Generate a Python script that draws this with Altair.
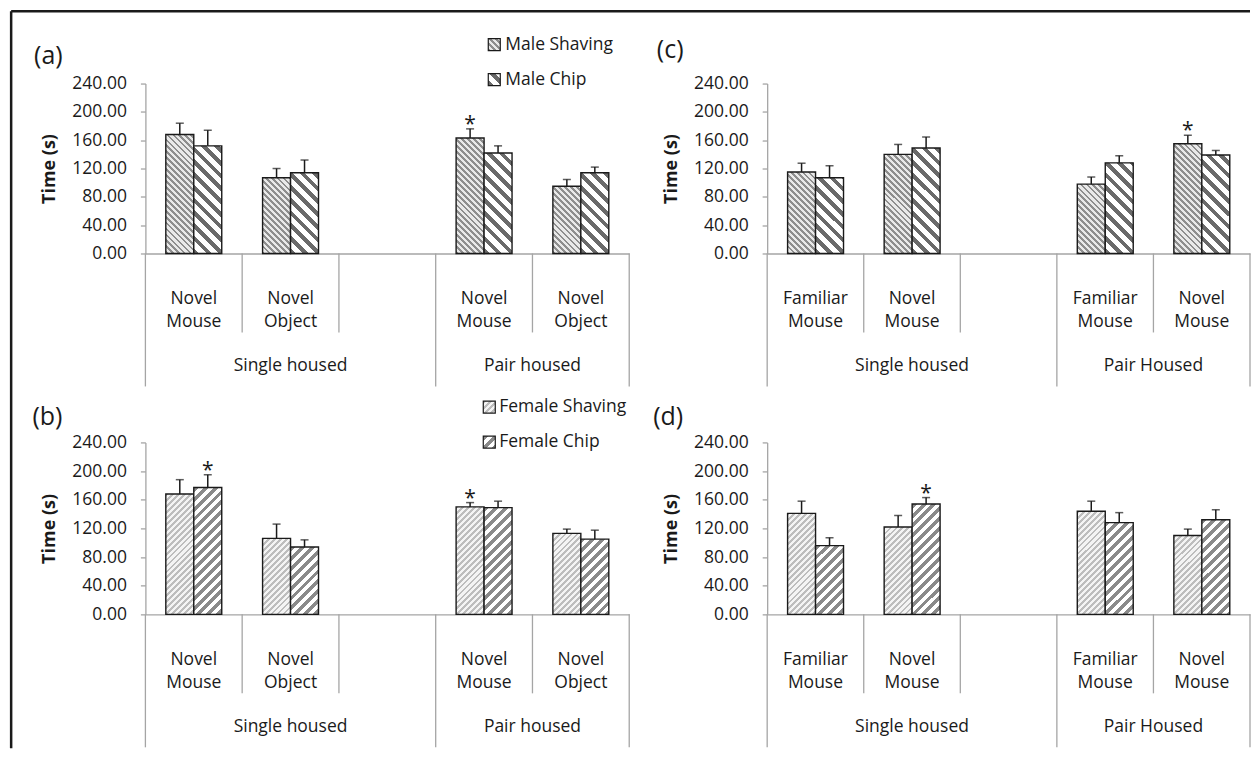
import math
import altair as alt
import pandas as pd

FONT = "Open Sans"
INK = "#1a1a1a"
AXC = "#a5a5a5"

# ---------------- data ----------------
series = ["Shaving", "Chip"]

slots_mouse_obj = ["Single housed|Novel Mouse", "Single housed|Novel Object", "Single housed|",
                   "Pair housed|Novel Mouse", "Pair housed|Novel Object"]
labels_mouse_obj = ["Novel|Mouse", "Novel|Object", "", "Novel|Mouse", "Novel|Object"]
slots_fam_nov = ["Single housed|Familiar Mouse", "Single housed|Novel Mouse", "Single housed|",
                 "Pair Housed|Familiar Mouse", "Pair Housed|Novel Mouse"]
labels_fam_nov = ["Familiar|Mouse", "Novel|Mouse", "", "Familiar|Mouse", "Novel|Mouse"]
groups_ab = ["Single housed", "Pair housed"]
groups_cd = ["Single housed", "Pair Housed"]

legend_male = ["Male Shaving", "Male Chip"]
legend_female = ["Female Shaving", "Female Chip"]

# values for the four filled slots (single 1, single 2, pair 1, pair 2)
a_shaving = [168, 107, 163, 95]
a_shaving_err = [16, 13, 13, 9.5]
a_shaving_star = [0, 0, 1, 0]
a_chip = [152, 114, 142, 114]
a_chip_err = [22, 18, 10, 8]
a_chip_star = [0, 0, 0, 0]

b_shaving = [168, 106, 150, 113]
b_shaving_err = [20, 20, 6, 6]
b_shaving_star = [0, 0, 1, 0]
b_chip = [177, 94, 149, 105]
b_chip_err = [18, 10, 9, 12.5]
b_chip_star = [1, 0, 0, 0]

c_shaving = [115, 140, 98, 155]
c_shaving_err = [12.5, 14, 10, 12]
c_shaving_star = [0, 0, 0, 1]
c_chip = [107, 149, 128, 139]
c_chip_err = [17, 15.5, 10, 6.5]
c_chip_star = [0, 0, 0, 0]

d_shaving = [141, 122, 144, 110]
d_shaving_err = [17, 16, 14, 9]
d_shaving_star = [0, 0, 0, 0]
d_chip = [96, 154, 128, 132]
d_chip_err = [11, 9, 14, 14]
d_chip_star = [0, 1, 0, 0]

# ---------------- stripe fills ----------------
# (dark, light, period px, dark width px, direction)
STY = {
    "male_shaving": ("#8e8e8e", "#e9e9e9", 4.2, 2.0, "back"),
    "male_chip": ("#6a6a6a", "#ffffff", 9.0, 4.0, "back"),
    "female_shaving": ("#bdbdbd", "#f4f4f4", 4.2, 2.0, "fwd"),
    "female_chip": ("#8a8a8a", "#ffffff", 7.0, 3.5, "fwd"),
}


def stripe_stops(dark, light, period, dark_w, L):
    out = []
    i = 0
    while i * period < L:
        a = i * period / L
        b = min((i * period + dark_w) / L, 1.0)
        c = min((i + 1) * period / L, 1.0)
        out += [(a, dark), (b, dark), (b, light), (c, light)]
        i += 1
    return out


def grad_expr(style, w, pxper, L=135.0):
    dark, light, period, dw, direction = style
    stops = stripe_stops(dark, light, period, dw, L)
    sj = "[" + ",".join("{offset:%.5f,color:'%s'}" % (o, c) for o, c in stops) + "]"
    K = math.sqrt(2) * L
    h = "(datum.value*%.6f)" % pxper
    den = "(%.4f+%s*%s)" % (w * w, h, h)
    if direction == "back":
        return ("{gradient:'linear',x1:0,y1:1,x2:%.4f/%s,y2:1-%.4f*%s/%s,stops:%s}"
                % (K * w, den, K, h, den, sj))
    return ("{gradient:'linear',x1:0,y1:0,x2:%.4f/%s,y2:%.4f*%s/%s,stops:%s}"
            % (K * w, den, K, h, den, sj))


def grad_dict(style, w, h, L=22.0):
    dark, light, period, dw, direction = style
    stops = stripe_stops(dark, light, period, dw, L)
    K = math.sqrt(2) * L
    lam = K / (w * w + h * h)
    if direction == "back":
        x1, y1, x2, y2 = 0, 1, lam * w, 1 - lam * h
    else:
        x1, y1, x2, y2 = 0, 0, lam * w, lam * h
    return {"gradient": "linear", "x1": x1, "y1": y1, "x2": x2, "y2": y2,
            "stops": [{"offset": round(o, 5), "color": c} for o, c in stops]}


PAD_OUT = 0.73

XAXIS = alt.Axis(labels=False, ticks=False, domainColor=AXC, domainWidth=1.3,
                 title=None, grid=False)
YAXIS = alt.Axis(values=[0, 40, 80, 120, 160, 200, 240], format=".2f", tickSize=5,
                 labelPadding=14, domainColor=AXC, tickColor=AXC, domainWidth=1.3,
                 tickWidth=1.3, labelFont=FONT, labelFontSize=17.5, labelColor=INK,
                 grid=False, title="Time (s)", titleFont=FONT, titleFontSize=18,
                 titleFontWeight="bold", titleColor=INK, titlePadding=13,
                 labelFlush=False, labelOverlap=False)


def build_panel(p):
    W, H = p["W"], p["H"]
    pxper = H / 240.0
    slots = p["slots"]
    bar_slots = [slots[i] for i in (0, 1, 3, 4)]
    rows = []
    for sname, vals, errs, stars in ((series[0], p["shaving"], p["shaving_err"], p["shaving_star"]),
                                     (series[1], p["chip"], p["chip_err"], p["chip_star"])):
        for sl, v, e, st in zip(bar_slots, vals, errs, stars):
            rows.append(dict(slot=sl, series=sname, value=v, err=e, star=st))
    df = pd.DataFrame(rows)

    xsc = alt.Scale(type="band", domain=slots, paddingInner=0, paddingOuter=0)
    osc = alt.Scale(type="band", domain=series, paddingInner=0, paddingOuter=PAD_OUT)
    ysc = alt.Scale(domain=[0, 240], nice=False, zero=True)
    bw = W / 5.0 / (2 + 2 * PAD_OUT)

    def X(**kw):
        return alt.X("slot:N", scale=xsc, axis=XAXIS, title=None, **kw)

    def Y(field):
        return alt.Y(field, scale=ysc, axis=YAXIS, title="Time (s)")

    XO = alt.XOffset("series:N", scale=osc)

    base = alt.Chart(df)
    layers = []
    for s in series:
        style = STY[p["sex"] + ("_shaving" if s == "Shaving" else "_chip")]
        layers.append(
            base.transform_filter(alt.datum.series == s)
            .transform_calculate(grad=grad_expr(style, bw, pxper))
            .mark_bar(stroke=INK, strokeWidth=1.4)
            .encode(x=X(), xOffset=XO, y=Y("value:Q"), fill=alt.Fill("grad:N", scale=None))
        )
    hi = base.transform_calculate(hi="datum.value + datum.err")
    layers.append(
        hi.mark_rule(color=INK, strokeWidth=1.5).encode(
            x=X(), xOffset=XO, y=Y("value:Q"), y2="hi:Q")
    )
    layers.append(
        hi.mark_tick(orient="horizontal", size=8, thickness=1.5, color=INK).encode(
            x=X(), xOffset=XO, y=Y("hi:Q"))
    )
    layers.append(
        hi.transform_filter("datum.star == 1")
        .mark_text(text="*", font=FONT, fontSize=21, baseline="alphabetic", dy=2, color=INK)
        .encode(x=X(), xOffset=XO, y=Y("hi:Q"))
    )

    # category dividers
    short = pd.DataFrame({"slot": [slots[1], slots[2], slots[4]]})
    long0 = pd.DataFrame({"slot": [slots[0], slots[3]]})
    long1 = pd.DataFrame({"slot": [slots[4]]})
    for d, bp, ln in ((short, 0, 79), (long0, 0, 133), (long1, 1, 133)):
        layers.append(
            alt.Chart(d).mark_rule(color=AXC, strokeWidth=1.3).encode(
                x=X(bandPosition=bp), y=alt.value(H), y2=alt.value(H + ln))
        )
    # category labels
    layers.append(
        alt.Chart(pd.DataFrame({"slot": slots, "lab": p["labels"]}))
        .mark_text(font=FONT, fontSize=17.5, color=INK, lineBreak="|", lineHeight=23.5,
                   baseline="middle", align="center")
        .encode(x=X(), y=alt.value(H + 45.5), text="lab:N")
    )
    # group labels
    for sl, bp, lab in ((slots[1], 0.5, p["groups"][0]), (slots[3], 1, p["groups"][1])):
        layers.append(
            alt.Chart(pd.DataFrame({"slot": [sl], "lab": [lab]}))
            .mark_text(font=FONT, fontSize=17.5, color=INK, baseline="middle", align="center")
            .encode(x=X(bandPosition=bp), y=alt.value(H + 113), text="lab:N")
        )
    # panel letter
    layers.append(
        alt.Chart(pd.DataFrame({"t": [p["letter"]]}))
        .mark_text(font=FONT, fontSize=25, color=INK, baseline="middle", align="center")
        .encode(x=alt.value(p["letter_xy"][0]), y=alt.value(p["letter_xy"][1]), text="t:N")
    )
    # legend
    if p.get("legend"):
        lx, ly, tx = p["legend_pos"]
        for j, (lab, key) in enumerate(zip(p["legend"], ["_shaving", "_chip"])):
            cy = ly[j]
            g = grad_dict(STY[p["sex"] + key], 12, 12)
            layers.append(
                alt.Chart(pd.DataFrame({"t": [lab]}))
                .mark_rect(fill=g, stroke=INK, strokeWidth=1.2)
                .encode(x=alt.value(lx - 6), x2=alt.value(lx + 6),
                        y=alt.value(cy - 6), y2=alt.value(cy + 6))
            )
            layers.append(
                alt.Chart(pd.DataFrame({"t": [lab]}))
                .mark_text(font=FONT, fontSize=17.5, color=INK, baseline="middle", align="left")
                .encode(x=alt.value(tx), y=alt.value(cy), text="t:N")
            )
    # outer frame (drawn with panel a)
    if p.get("frame"):
        one = pd.DataFrame({"k": [0]})
        layers.append(
            alt.Chart(one).mark_rule(color=INK, strokeWidth=2.5)
            .encode(x=alt.value(-134.3), y=alt.value(-72.3), y2=alt.value(665))
        )
        layers.append(
            alt.Chart(one).mark_rule(color=INK, strokeWidth=2.5)
            .encode(x=alt.value(-134.3), x2=alt.value(1105), y=alt.value(-72.3))
        )
    return alt.layer(*layers).properties(width=W, height=H)


panels = {
    "a": dict(W=484, H=170, sex="male", slots=slots_mouse_obj, labels=labels_mouse_obj,
              groups=groups_ab, shaving=a_shaving, shaving_err=a_shaving_err,
              shaving_star=a_shaving_star, chip=a_chip, chip_err=a_chip_err,
              chip_star=a_chip_star, letter="(a)", letter_xy=(-97, -28),
              legend=legend_male, legend_pos=(349, (-39, -4), 360), frame=True),
    "c": dict(W=483, H=170, sex="male", slots=slots_fam_nov, labels=labels_fam_nov,
              groups=groups_cd, shaving=c_shaving, shaving_err=c_shaving_err,
              shaving_star=c_shaving_star, chip=c_chip, chip_err=c_chip_err,
              chip_star=c_chip_star, letter="(c)", letter_xy=(-97, -34)),
    "b": dict(W=484, H=172, sex="female", slots=slots_mouse_obj, labels=labels_mouse_obj,
              groups=groups_ab, shaving=b_shaving, shaving_err=b_shaving_err,
              shaving_star=b_shaving_star, chip=b_chip, chip_err=b_chip_err,
              chip_star=b_chip_star, letter="(b)", letter_xy=(-98, -25),
              legend=legend_female, legend_pos=(344, (-35.3, -0.3), 354)),
    "d": dict(W=483, H=172, sex="female", slots=slots_fam_nov, labels=labels_fam_nov,
              groups=groups_cd, shaving=d_shaving, shaving_err=d_shaving_err,
              shaving_star=d_shaving_star, chip=d_chip, chip_err=d_chip_err,
              chip_star=d_chip_star, letter="(d)", letter_xy=(-99, -25)),
}

chart = alt.concat(
    build_panel(panels["a"]), build_panel(panels["c"]),
    build_panel(panels["b"]), build_panel(panels["d"]),
    columns=2, spacing={"row": 189, "column": 138}, bounds="flush",
    padding={"left": 1.45, "top": 1.45, "right": 0, "bottom": 0},
).configure(font=FONT).configure_view(stroke=None)

chart.save("out.html", embed_options={"renderer": "svg", "actions": False})
